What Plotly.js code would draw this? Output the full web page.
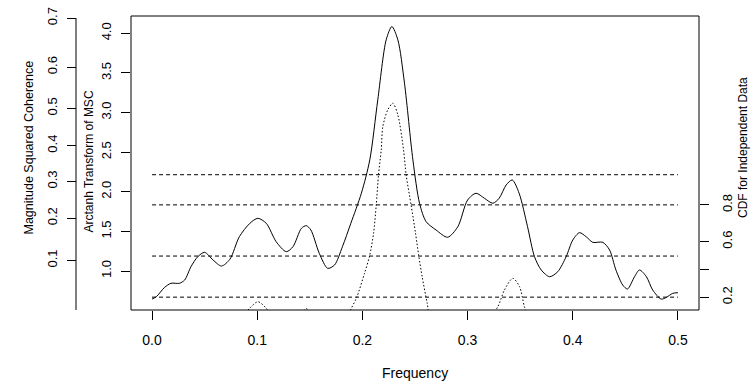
<!DOCTYPE html>
<html>
<head>
<meta charset="utf-8">
<script src="https://cdn.plot.ly/plotly-3.0.1.min.js"></script>
<style>html,body{margin:0;padding:0;background:#fff;}#chart{width:756px;height:388px;}</style>
</head>
<body>
<div id="chart"></div>
<script>
// ---- data ----
const freqCoh = [0.000,0.004,0.012,0.018,0.026,0.031,0.037,0.0435,0.050,0.058,0.066,0.074,0.083,0.093,0.1006,0.1086,0.118,0.1276,0.134,0.142,0.1466,0.151,0.159,0.167,0.1735,0.181,0.189,0.199,0.207,0.2146,0.2226,0.228,0.2337,0.240,0.248,0.2543,0.2606,0.270,0.281,0.2907,0.300,0.308,0.316,0.324,0.330,0.3367,0.3424,0.349,0.357,0.3636,0.370,0.378,0.3857,0.3937,0.400,0.4064,0.4127,0.419,0.4285,0.435,0.441,0.4475,0.452,0.4587,0.4634,0.470,0.476,0.484,0.489,0.495,0.500];
const arctanhMSC = [0.646,0.675,0.794,0.845,0.845,0.886,1.054,1.181,1.236,1.139,1.063,1.148,1.433,1.602,1.665,1.602,1.370,1.244,1.307,1.539,1.572,1.518,1.223,1.034,1.076,1.307,1.602,1.981,2.402,3.159,3.917,4.085,3.917,3.370,2.402,1.855,1.622,1.518,1.426,1.559,1.896,1.981,1.918,1.855,1.918,2.086,2.149,1.981,1.559,1.181,1.013,0.928,0.991,1.181,1.391,1.484,1.433,1.362,1.362,1.265,1.013,0.823,0.773,0.928,1.013,0.928,0.760,0.646,0.668,0.718,0.726];

const freqLower = [0.000,0.020,0.040,0.050,0.065,0.080,0.0927,0.1006,0.1086,0.118,0.128,0.138,0.1466,0.155,0.167,0.178,0.1887,0.1947,0.202,0.2068,0.2106,0.2131,0.2153,0.2179,0.2194,0.2241,0.2289,0.2337,0.2391,0.2416,0.2464,0.2505,0.2536,0.2568,0.2616,0.266,0.280,0.300,0.315,0.3287,0.335,0.343,0.3494,0.354,0.360,0.380,0.410,0.440,0.470,0.500];
const lowerMSC = [0.0,-0.1,0.1,0.15,0.0,0.3,0.529,0.612,0.529,0.3,0.2,0.4,0.525,0.4,0.0,0.2,0.508,0.672,0.971,1.189,1.476,1.824,2.212,2.528,2.822,3.033,3.117,2.970,2.528,2.212,1.824,1.476,1.189,0.928,0.592,0.3,0.2,0.4,0.3,0.549,0.760,0.908,0.802,0.549,0.3,0.0,0.3,0.0,0.1,-0.1];

const cdfLevels = [0.2, 0.5, 0.8, 0.9];
const freqTicks = [0, 0.1, 0.2, 0.3, 0.4, 0.5];
const freqTickText = ['0.0','0.1','0.2','0.3','0.4','0.5'];
const arcTicks = [1.0, 1.5, 2.0, 2.5, 3.0, 3.5, 4.0];
const arcTickText = ['1.0','1.5','2.0','2.5','3.0','3.5','4.0'];
const mscTicks = [0.1, 0.2, 0.3, 0.4, 0.5, 0.6, 0.7];
const mscTickText = ['0.1','0.2','0.3','0.4','0.5','0.6','0.7'];
const cdfTicks = [0.2, 0.4, 0.6, 0.8];
const cdfTickText = ['0.2','','0.6','0.8'];

// ---- axis transforms (7 tapers) ----
const K = 7;
const SCALE = Math.sqrt(2*K - 2);
function mscToArc(m){ return SCALE*Math.atanh(Math.sqrt(m)); }
function cdfToArc(p){ return mscToArc(1 - Math.pow(1 - p, 1/(K-1))); }

const yRange = [0.508, 4.218];
const xRange = [-0.02, 0.52];
const X0 = 0.1381; // left of plot domain

const fontFam = 'Liberation Sans, Arial, Helvetica, sans-serif';

// dashed reference lines
const dashX = [], dashY = [];
cdfLevels.forEach(p => { dashX.push(0, 0.5, null); const v = cdfToArc(p); dashY.push(v, v, null); });

const traces = [
  {x: freqCoh, y: arctanhMSC, type: 'scatter', mode: 'lines', xaxis: 'x', yaxis: 'y',
   line: {color: '#000', width: 1, shape: 'spline', smoothing: 0.8}, hoverinfo: 'skip', showlegend: false},
  {x: freqLower, y: lowerMSC, type: 'scatter', mode: 'lines', xaxis: 'x', yaxis: 'y',
   line: {color: '#000', width: 1, dash: '1.5px,2px', shape: 'spline', smoothing: 0.8}, hoverinfo: 'skip', showlegend: false},
  {x: dashX, y: dashY, type: 'scatter', mode: 'lines', xaxis: 'x', yaxis: 'y3',
   line: {color: '#000', width: 1, dash: '4px,3px'}, hoverinfo: 'skip', showlegend: false, connectgaps: false},
  {x: [null], y: [null], type: 'scatter', mode: 'lines', xaxis: 'x', yaxis: 'y2', hoverinfo: 'skip', showlegend: false}
];

const baseY = {range: yRange, autorange: false, showgrid: false, zeroline: false, showline: false,
  ticks: 'outside', ticklen: 9, tickcolor: '#000', tickwidth: 1, tickangle: -90,
  tickfont: {family: fontFam, size: 13, color: '#000'}, fixedrange: true};

const layout = {
  width: 756, height: 388,
  margin: {l: 40, r: 57, t: 16, b: 78, pad: 0},
  paper_bgcolor: '#fff', plot_bgcolor: '#fff',
  showlegend: false,
  xaxis: {domain: [X0, 1], range: xRange, autorange: false, showgrid: false, zeroline: false, showline: false,
    tickmode: 'array', tickvals: freqTicks, ticktext: freqTickText,
    ticks: 'outside', ticklen: 9, tickcolor: '#000', tickwidth: 1, ticklabelstandoff: 8,
    tickfont: {family: fontFam, size: 14, color: '#000'}, fixedrange: true},
  yaxis: Object.assign({}, baseY, {anchor: 'x', side: 'left', tickmode: 'array', tickvals: arcTicks, ticktext: arcTickText, ticklabelstandoff: 5}),
  yaxis2: Object.assign({}, baseY, {overlaying: 'y', anchor: 'free', position: (76-40)/659, side: 'left',
    tickmode: 'array', tickvals: mscTicks.map(mscToArc), ticktext: mscTickText, ticklabelstandoff: 5}),
  yaxis3: Object.assign({}, baseY, {overlaying: 'y', anchor: 'x', side: 'right',
    tickmode: 'array', tickvals: cdfTicks.map(cdfToArc), ticktext: cdfTickText, ticklabelstandoff: 7}),
  shapes: [
    {type: 'rect', xref: 'paper', yref: 'paper', x0: X0, x1: 1, y0: 0, y1: 1, line: {color: '#000', width: 1}},
    {type: 'line', xref: 'paper', yref: 'y', x0: (76-40)/659, x1: (76-40)/659, y0: yRange[0], y1: mscToArc(0.7), line: {color: '#000', width: 1}}
  ],
  annotations: [
    {text: 'Frequency', xref: 'paper', yref: 'paper', x: (415-40)/659, y: (310-373)/294, showarrow: false,
     xanchor: 'center', yanchor: 'middle', font: {family: fontFam, size: 14, color: '#000'}},
    {text: 'Magnitude Squared Coherence', xref: 'paper', yref: 'paper', x: (28-40)/659, y: (310-147.5)/294, showarrow: false,
     textangle: -90, xanchor: 'center', yanchor: 'middle', font: {family: fontFam, size: 12.5, color: '#000'}},
    {text: 'Arctanh Transform of MSC', xref: 'paper', yref: 'paper', x: (88-40)/659, y: (310-161.5)/294, showarrow: false,
     textangle: -90, xanchor: 'center', yanchor: 'middle', font: {family: fontFam, size: 12, color: '#000'}},
    {text: 'CDF for Independent Data', xref: 'paper', yref: 'paper', x: (743-40)/659, y: (310-148)/294, showarrow: false,
     textangle: -90, xanchor: 'center', yanchor: 'middle', font: {family: fontFam, size: 12, color: '#000'}}
  ]
};

Plotly.newPlot('chart', traces, layout, {staticPlot: true, displayModeBar: false});
</script>
</body>
</html>
